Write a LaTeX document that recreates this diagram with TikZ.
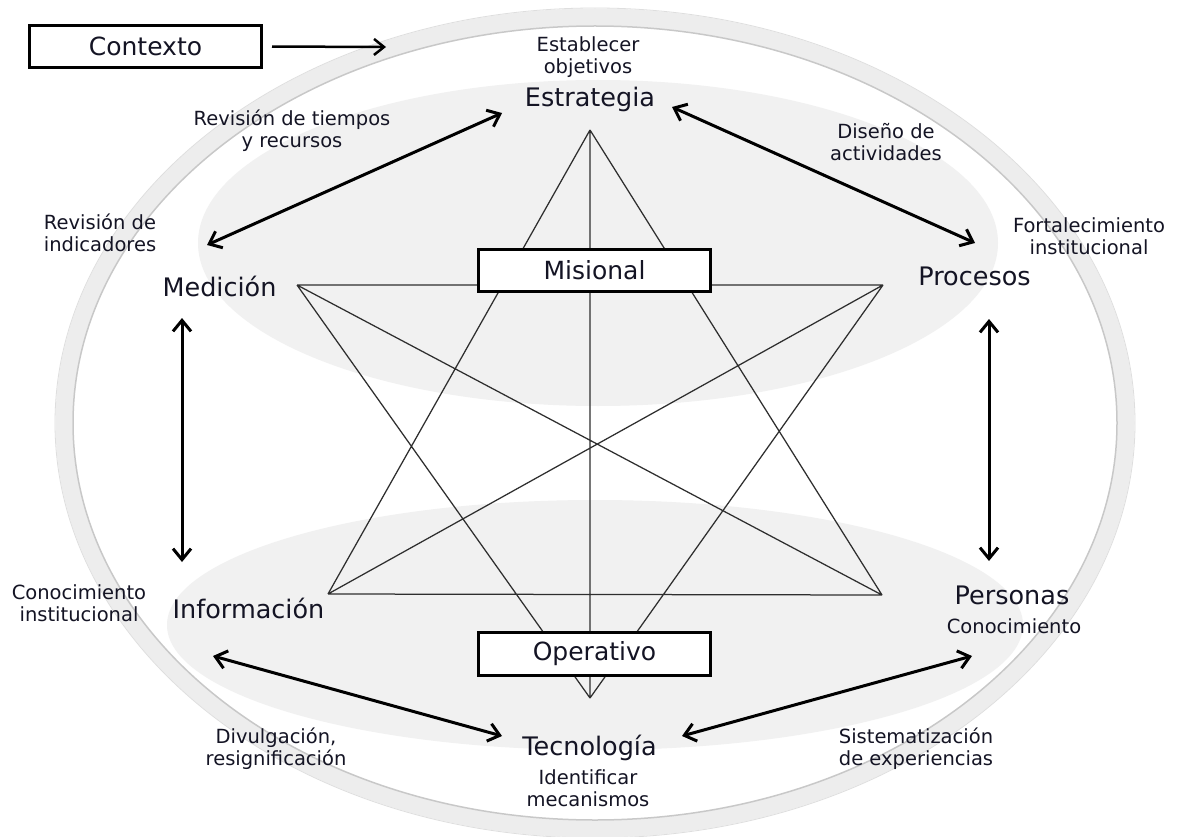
\documentclass[tikz,border=0pt]{standalone}
\usepackage{fontspec}
\setmainfont{DejaVu Sans}
\usetikzlibrary{arrows.meta}
\definecolor{ring}{HTML}{EDEDED}
\definecolor{ringedge}{HTML}{C8C8C8}
\definecolor{zone}{HTML}{F1F1F1}
\definecolor{txt}{HTML}{141424}
\definecolor{starline}{HTML}{2E2E2E}
\begin{document}
\begin{tikzpicture}[x=1pt,y=-1pt,
  small/.style={font=\fontsize{19.5}{22}\selectfont, text=txt, align=center, inner sep=0pt},
  big/.style={font=\fontsize{25.5}{30}\selectfont, text=txt, inner sep=0pt, anchor=base},
  levelbox/.style={draw, line width=3pt, fill=white, minimum width=232pt, minimum height=42.5pt, font=\fontsize{25}{30}\selectfont, text=txt, inner sep=0pt},
  barb/.tip={Straight Barb[length=11pt,width=18pt]},
  link/.style={line width=3pt, barb-barb},
  edge/.style={line width=1.25pt, draw=starline}
]
\useasboundingbox (0,0) rectangle (1178,837);
\fill[white] (0,0) rectangle (1178,837);
% outer ring
\draw[ring, line width=17pt] (595,423) ellipse [x radius=531, y radius=406];
\draw[ringedge, line width=1.5pt] (595,423) ellipse [x radius=522, y radius=397];
\draw[ringedge!60, line width=0.8pt] (595,423) ellipse [x radius=540, y radius=415];
% zones
\fill[zone] (598,243) ellipse [x radius=400, y radius=163];
\fill[zone] (595,625) ellipse [x radius=428, y radius=125];
% star
\coordinate (T) at (590,130);
\coordinate (UL) at (297,285);
\coordinate (UR) at (883,285);
\coordinate (LL) at (328,594);
\coordinate (LR) at (882,595);
\coordinate (B) at (590,698);
\draw[edge] (T)--(LL) (T)--(LR) (T)--(B) (UL)--(UR) (UL)--(LR) (UL)--(B) (UR)--(LL) (UR)--(B) (LL)--(LR);
% boxes
\node[levelbox] (mis) at (594.5,270.5) {Misional};
\node[levelbox] (ope) at (594.5,654) {Operativo};
\node[levelbox] (ctx) at (145.5,46.5) {Contexto};
\coordinate (ctxend) at (386,47);
\draw[line width=2.5pt, -{Straight Barb[length=10pt,width=16pt]}, shorten <=9pt] (ctx.east) -- (ctxend);
% main labels
\node[big] (estr) at (590,107) {Estrategia};
\node[big] (med) at (219.5,296) {Medición};
\node[big] (proc) at (974.5,285) {Procesos};
\node[big] (info) at (248.5,618) {Información};
\node[big] (pers) at (1012,604) {Personas};
\node[big] (tec) at (589.5,755) {Tecnología};
% small labels
\node[small] (estab) at (588,57) {Establecer\\objetivos};
\node[small] (revt) at (292,131) {Revisión de tiempos\\y recursos};
\node[small] (dis) at (886,142) {Diseño de\\actividades};
\node[small] (revi) at (100,233) {Revisión de\\indicadores};
\node[small] (fort) at (1089,236) {Fortalecimiento\\institucional};
\node[small] (coni) at (79,603) {Conocimiento\\institucional};
\node[small, anchor=base] (conp) at (1014,633) {Conocimiento};
\node[small] (div) at (276,749) {Divulgación,\\resignificación};
\node[small] (ident) at (588,788) {Identificar\\mecanismos};
\node[small] (sist) at (916,749) {Sistematización\\de experiencias};
% arrow ends
\coordinate (a1s) at (207,245); \coordinate (a1e) at (502,113);
\coordinate (a2s) at (672,107); \coordinate (a2e) at (975,243);
\coordinate (a3s) at (182,318); \coordinate (a3e) at (182,562);
\coordinate (a4s) at (989,319); \coordinate (a4e) at (989,561);
\coordinate (a5s) at (213,656); \coordinate (a5e) at (502,736);
\coordinate (a6s) at (682,736); \coordinate (a6e) at (972,656);
\draw[link] (a1s) -- (a1e);
\draw[link] (a2s) -- (a2e);
\draw[link] (a3s) -- (a3e);
\draw[link] (a4s) -- (a4e);
\draw[link] (a5s) -- (a5e);
\draw[link] (a6s) -- (a6e);
\end{tikzpicture}
\end{document}
